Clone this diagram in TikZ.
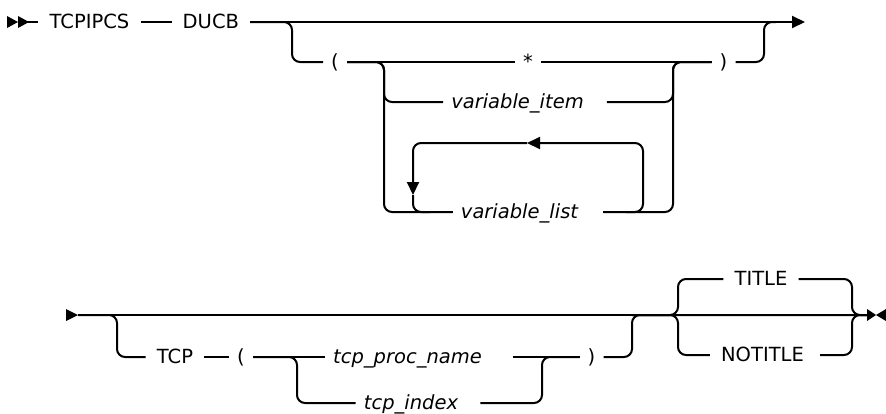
\documentclass[tikz,border=0pt]{standalone}
\usepackage{fontspec}
\setmainfont{DejaVu Sans}
\usetikzlibrary{arrows.meta,calc,positioning}

\begin{document}
\begin{tikzpicture}[
      x=1pt, y=-1pt,
      font=\fontsize{19.5}{22}\selectfont,
      >={Triangle[length=13pt,width=12pt]},
      rail/.style={line width=2pt, rounded corners=8pt},
      kw/.style={inner xsep=11pt, inner ysep=0pt, text height=13pt, text depth=0pt},
      var/.style={kw, inner xsep=8pt, font=\fontsize{19.5}{22}\selectfont\itshape},
      paren/.style={kw, inner xsep=8pt},
]
\useasboundingbox (0,0) rectangle (886,413);

% first line
\node[kw] (tcpipcs) at (89.5,22) {TCPIPCS};
\node[kw, right=31pt of tcpipcs] (ducb) {DUCB};
\node[paren] (lpar1) at (335,62) {(};
\node[paren] (star) at (528,62) {*};
\node[paren] (rpar1) at (723.5,62) {)};
\node[var] (vitem) at (517.5,102) {variable\_item};
\node[var] (vlist) at (519.5,212) {variable\_list};

\coordinate (st1) at (18,22);
\coordinate (end1) at (805,22);
\coordinate (j1l) at (292,62);
\coordinate (j1r) at (764,22);
\coordinate (g1l) at (384,102);
\coordinate (g1ll) at (384,212);
\coordinate (g1r) at (673,62);

\fill (7,16) -- (18,22) -- (7,28) -- cycle;
\fill (18,16) -- (29,22) -- (18,28) -- cycle;
\draw[rail] (st1) -- (tcpipcs);
\draw[rail] (tcpipcs) -- (ducb);
\draw[rail,->] (ducb) -- (end1);
\draw[rail] (ducb) -| (j1l) -- (lpar1);
\draw[rail] (lpar1) -- (star);
\draw[rail] (star) -- (rpar1);
\draw[rail] (rpar1) -| (j1r) -- ++(12,0);

\draw[rail] (lpar1) -| (g1l) -- (vitem);
\draw[rail] (lpar1) -| (g1ll) -- (vlist);
\draw[rail, shorten <=15pt] (vitem) -| (g1r) -- (rpar1);
\draw[rail, shorten <=17pt] (vlist) -| (g1r) -- (rpar1);

% repeat loop
\coordinate (lp1) at (626,212);
\coordinate (lp2) at (643,143);
\coordinate (lp3) at (527,143);
\coordinate (lp4) at (413,195);
\coordinate (lp5) at (430,212);
\draw[rail,->] (lp1) -| (lp2) -- (lp3);
\draw[rail,->] (lp3) -| (lp4);
\draw[rail] (lp4) |- (lp5);

% second line
\node[kw] (tcp) at (175,357) {TCP};
\node[paren] (lpar2) at (241,357) {(};
\node[var] (procname) at (407.5,357) {tcp\_proc\_name};
\node[var] (tcpindex) at (411,403) {tcp\_index};
\node[paren] (rpar2) at (591.5,357) {)};
\node[kw] (title) at (761,279) {TITLE};
\node[kw] (notitle) at (762.5,355) {NOTITLE};

\coordinate (st2) at (78,315);
\coordinate (end2) at (868,315);
\coordinate (j2a) at (117,357);
\coordinate (j2b) at (297,403);
\coordinate (j2c) at (542,357);
\coordinate (j2d) at (632,315);
\coordinate (j3a) at (678,279);
\coordinate (j3b) at (678,355);
\coordinate (j3c) at (852,315);

\fill (66,309) -- (78,315) -- (66,321) -- cycle;
\draw[rail] (st2) -- (end2);
\fill (867,309) -- (876,315) -- (867,321) -- cycle;
\fill (886,309) -- (876,315) -- (886,321) -- cycle;

\draw[rail] (st2) -| (j2a) -- (tcp);
\draw[rail] (tcp) -- (lpar2);
\draw[rail] (lpar2) -- (procname);
\draw[rail] (lpar2) -| (j2b) -- (tcpindex);
\draw[rail, shorten <=23pt] (procname) -- (rpar2);
\draw[rail, shorten <=14pt] (tcpindex) -| (j2c) -- (rpar2);
\draw[rail] (rpar2) -| (j2d) -- (end2);
\draw[rail] (j2d) -| (j3a) -- (title);
\draw[rail] (j2d) -| (j3b) -- (notitle);
\draw[rail] (title) -| (j3c) -- (end2);
\draw[rail, shorten <=5pt] (notitle) -| (j3c) -- (end2);

\end{tikzpicture}
\end{document}
